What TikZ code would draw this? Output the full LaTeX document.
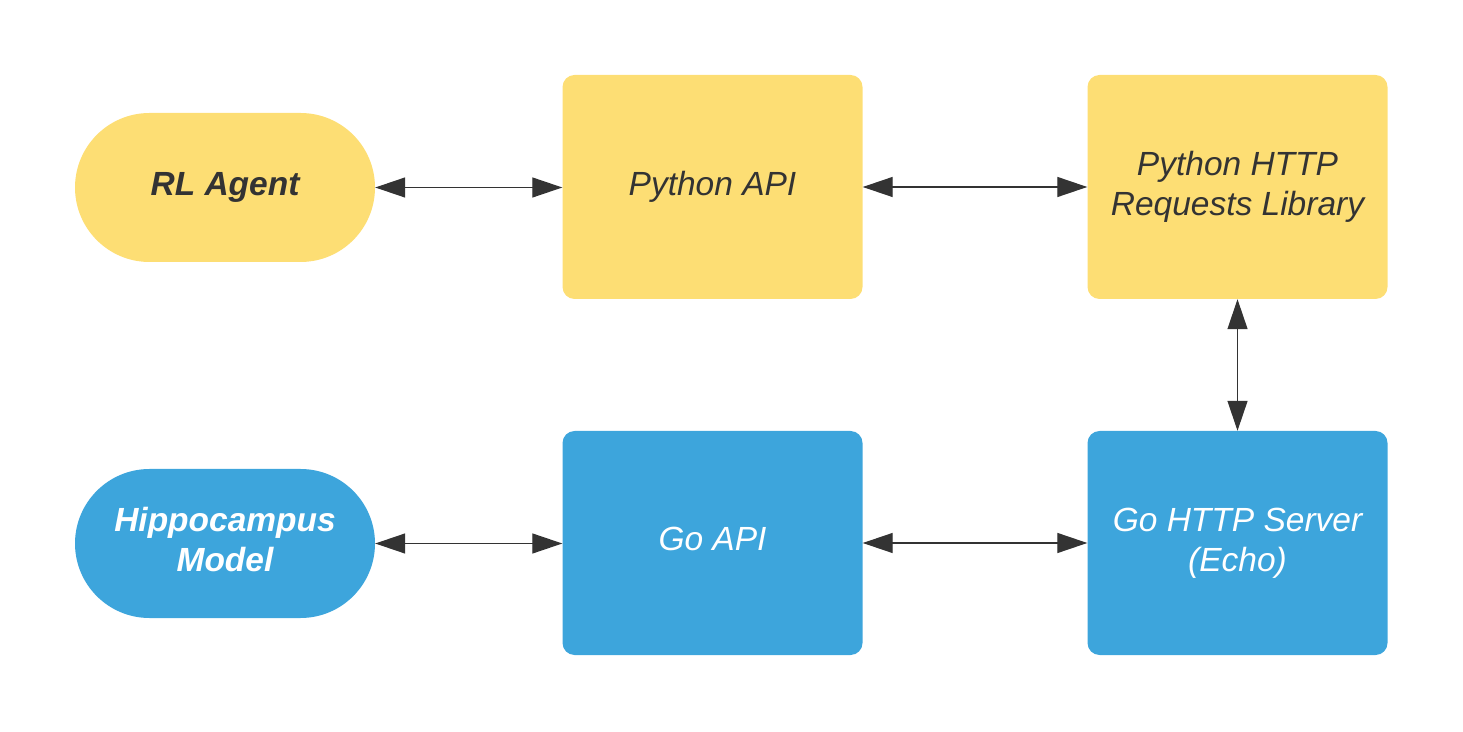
\documentclass[tikz,border=0pt]{standalone}
\usepackage{fontspec}
\setmainfont{Liberation Sans}
\usetikzlibrary{arrows.meta,shapes.misc}
\definecolor{yel}{HTML}{FDDE74}
\definecolor{blu}{HTML}{3DA5DC}
\definecolor{ink}{HTML}{333333}
\begin{document}
\begin{tikzpicture}[x=1pt,y=1pt,
  box/.style={rectangle,rounded corners=12pt,minimum width=300pt,minimum height=224pt,inner sep=0pt,align=center,font=\fontsize{33.5}{40}\selectfont\itshape},
  pill/.style={rounded rectangle,minimum width=300pt,minimum height=149pt,inner sep=0pt,align=center,font=\fontsize{33.5}{40}\selectfont\bfseries\itshape},
  yb/.style={fill=yel,text=ink},
  bb/.style={fill=blu,text=white},
  lbl/.style={align=center,inner sep=0pt,text=white,font=\fontsize{33.5}{40}\selectfont\itshape},
  link/.style={draw=ink,line width=1.3pt,{Triangle[length=30pt,width=20pt]}-{Triangle[length=30pt,width=20pt]}}]
\useasboundingbox (0,0) rectangle (1463,731);
\node[pill,yb] (rl) at (225,543.5) {RL Agent};
\node[box,yb] (pyapi) at (712.5,544) {Python API};
\node[box,yb] (req) at (1237.5,544) {Python HTTP\\Requests Library};
\node[pill,bb] (hip) at (225,187.5) {};
\node[lbl,font=\fontsize{33.5}{40}\selectfont\bfseries\itshape] (hiptext) at ([yshift=4pt]hip.center) {Hippocampus\\Model};
\node[box,bb] (goapi) at (712.5,188) {};
\node[lbl] (goapitext) at ([yshift=4pt]goapi.center) {Go API};
\node[box,bb] (srv) at (1237.5,188) {Go HTTP Server\\(Echo)};
\draw[link] (rl.east) -- (rl.east -| pyapi.west);
\draw[link] (pyapi.east) -- (req.west);
\draw[link] (req.south) -- (srv.north);
\draw[link] (hip.east) -- (hip.east -| goapi.west);
\draw[link] (goapi.east) -- (srv.west);
\end{tikzpicture}
\end{document}
